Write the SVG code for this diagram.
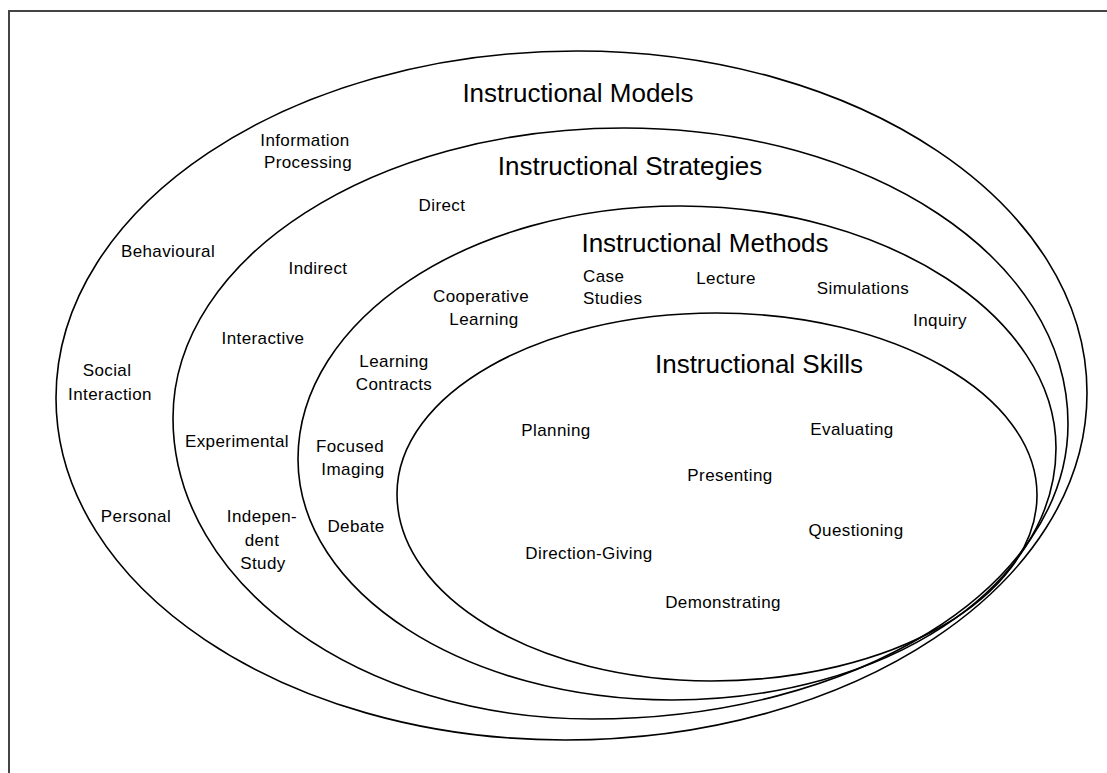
<svg xmlns="http://www.w3.org/2000/svg" width="1107" height="773" viewBox="0 0 1107 773">
<style>
.ring{fill:none;stroke:#000;stroke-width:1.6}
.frame{fill:none;stroke:#444;stroke-width:2}
.t{font-family:"Liberation Sans",Arial,sans-serif;fill:#000;text-anchor:middle}
.s{font-size:17px;letter-spacing:0.4px}
.h{font-size:26px}
.l{text-anchor:start}
</style>
<rect x="0" y="0" width="1107" height="773" fill="#fff"/>
<path class="frame" d="M9,773 V11 H1107"/>
<g id="models">
<path class="ring" d="M56,398 C56,206.4 289.3,51 577,51 C858.7,51 1087,204.1 1087,393 C1087,584.6 853.3,740 565,740 C283.9,740 56,586.9 56,398 Z"/>
<text class="t h" x="578" y="102">Instructional Models</text>
<text class="t s" x="305" y="146">Information</text>
<text class="t s" x="308" y="168">Processing</text>
<text class="t s" x="168" y="257">Behavioural</text>
<text class="t s" x="107" y="376">Social</text>
<text class="t s" x="110" y="400">Interaction</text>
<text class="t s" x="136" y="522">Personal</text>
</g>
<g id="strategies">
<path class="ring" d="M173,418 C173,257.8 374.9,128 624,128 C868.7,128 1068,257.3 1068,424 C1068,587.4 854.8,719 592,719 C360.6,719 173,584.2 173,418 Z"/>
<text class="t h" x="630" y="175">Instructional Strategies</text>
<text class="t s" x="442" y="211">Direct</text>
<text class="t s" x="318" y="274">Indirect</text>
<text class="t s" x="263" y="344">Interactive</text>
<text class="t s" x="237" y="447">Experimental</text>
<text class="t s" x="262" y="522">Indepen-</text>
<text class="t s" x="262" y="546">dent</text>
<text class="t s" x="263" y="569">Study</text>
</g>
<g id="methods">
<path class="ring" d="M298,459 C298,319.3 469,206 680,206 C887.6,206 1056,317.4 1056,448 C1056,587.5 884,700 672,700 C465.4,700 298,592.1 298,459 Z"/>
<text class="t h" x="705" y="252">Instructional Methods</text>
<text class="t s l" x="583" y="282">Case</text>
<text class="t s l" x="583" y="304">Studies</text>
<text class="t s" x="726" y="284">Lecture</text>
<text class="t s" x="863" y="294">Simulations</text>
<text class="t s" x="940" y="326">Inquiry</text>
<text class="t s" x="481" y="302">Cooperative</text>
<text class="t s" x="484" y="325">Learning</text>
<text class="t s" x="394" y="367">Learning</text>
<text class="t s" x="394" y="390">Contracts</text>
<text class="t s" x="350" y="452">Focused</text>
<text class="t s" x="353" y="475">Imaging</text>
<text class="t s" x="356" y="532">Debate</text>
</g>
<g id="skills">
<path class="ring" d="M397,494 C397,394 539.8,313 716,313 C893.3,313 1037,394.5 1037,495 C1037,597.7 891,681 711,681 C537.6,681 397,597.3 397,494 Z"/>
<text class="t h" x="759" y="373">Instructional Skills</text>
<text class="t s" x="556" y="436">Planning</text>
<text class="t s" x="852" y="435">Evaluating</text>
<text class="t s" x="730" y="481">Presenting</text>
<text class="t s" x="856" y="536">Questioning</text>
<text class="t s" x="589" y="559">Direction-Giving</text>
<text class="t s" x="723" y="608">Demonstrating</text>
</g>
</svg>
